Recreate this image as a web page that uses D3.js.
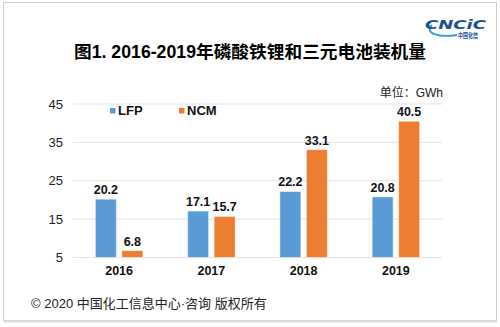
<!DOCTYPE html>
<html>
<head>
<meta charset="utf-8">
<script src="https://cdn.jsdelivr.net/npm/d3@7"></script>
<style>
	body { margin: 0; background: #fff; }
	svg text { font-family: "Liberation Sans", Arial, "Noto Sans CJK SC", sans-serif; }
</style>
</head>
<body>
<svg id="chart" width="500" height="327"></svg>
<script>
// data
var years = ["2016", "2017", "2018", "2019"];
var seriesNames = ["LFP", "NCM"];
var lfp = [20.2, 17.1, 22.2, 20.8];
var ncm = [6.8, 15.7, 33.1, 40.5];
var yTicks = [5, 15, 25, 35, 45];
var colors = ["#5B9BD5", "#ED7D31"];

var svg = d3.select("#chart");

// frame
svg.append("rect")
	.attr("x", 3.5).attr("y", 2.5)
	.attr("width", 493).attr("height", 318)
	.attr("fill", "#fff")
	.attr("stroke", "#cfcfcf");
svg.append("line")
	.attr("x1", 4).attr("x2", 497)
	.attr("y1", 321.5).attr("y2", 321.5)
	.attr("stroke", "#dedede").attr("stroke-width", 2);

var x = d3.scaleBand().domain(years).range([73, 442]).padding(0);
var y = d3.scaleLinear().domain([5, 45]).range([257.5, 104]);

var barW = 21, gap = 5.5;

// gridlines
svg.append("g").selectAll("line")
	.data(yTicks)
	.enter().append("line")
	.attr("x1", 73).attr("x2", 442)
	.attr("y1", function(d) { return y(d); })
	.attr("y2", function(d) { return y(d); })
	.attr("stroke", "#e3e3e3")
	.attr("stroke-width", 1);

// y axis labels
var yAxis = d3.axisLeft(y).tickValues(yTicks).tickSize(0).tickPadding(10);
var yg = svg.append("g").attr("transform", "translate(73,0)").call(yAxis);
yg.select(".domain").remove();
yg.selectAll("text")
	.style("font-size", "13px")
	.attr("fill", "#222");

// bars
var series = [lfp, ncm];
series.forEach(function(vals, s) {
	var off = s === 0 ? -gap / 2 - barW : gap / 2;
	var g = svg.append("g");
	g.selectAll("rect")
		.data(vals)
		.enter().append("rect")
		.attr("x", function(d, i) { return x(years[i]) + x.bandwidth() / 2 + off; })
		.attr("y", function(d) { return y(d); })
		.attr("width", barW)
		.attr("height", function(d) { return y(5) - y(d); })
		.attr("fill", colors[s])
		.attr("stroke", "#fff")
		.attr("stroke-opacity", 0.5)
		.attr("stroke-width", 1);

	g.selectAll("text")
		.data(vals)
		.enter().append("text")
		.attr("x", function(d, i) { return x(years[i]) + x.bandwidth() / 2 + off + barW / 2; })
		.attr("y", function(d) { return y(d) - 5; })
		.attr("text-anchor", "middle")
		.style("font-size", "12.5px")
		.style("font-weight", "bold")
		.attr("fill", "#111")
		.text(function(d) { return d.toFixed(1); });
});

// x axis labels
var xAxis = d3.axisBottom(x).tickSize(0).tickPadding(9);
var xg = svg.append("g").attr("transform", "translate(0," + y(5) + ")").call(xAxis);
xg.select(".domain").remove();
xg.selectAll("text")
	.style("font-size", "12.5px")
	.style("font-weight", "bold")
	.attr("fill", "#111");

// legend
var legX = [110, 179];
seriesNames.forEach(function(n, i) {
	svg.append("rect")
		.attr("x", legX[i]).attr("y", 108)
		.attr("width", 5.5).attr("height", 5.5)
		.attr("fill", colors[i]);
	svg.append("text")
		.attr("x", legX[i] + 8).attr("y", 115)
		.style("font-size", "13px")
		.style("font-weight", "bold")
		.attr("fill", "#111")
		.text(n);
});

// title
svg.append("text")
	.attr("x", 250).attr("y", 58)
	.attr("text-anchor", "middle")
	.attr("textLength", 352)
	.attr("lengthAdjust", "spacingAndGlyphs")
	.style("font-size", "17.5px")
	.style("font-weight", "bold")
	.attr("fill", "#000")
	.text("图1. 2016-2019年磷酸铁锂和三元电池装机量");

// unit
svg.append("text")
	.attr("x", 443).attr("y", 97)
	.attr("text-anchor", "end")
	.style("font-size", "12px")
	.attr("fill", "#222")
	.text("单位：GWh");

// footer
svg.append("text")
	.attr("x", 31).attr("y", 308)
	.style("font-size", "13px")
	.attr("fill", "#222")
	.text("© 2020 中国化工信息中心·咨询 版权所有");

// logo
var logo = svg.append("g");
logo.append("path")
	.attr("d", "M432,25 C424,33 438,38 457,35")
	.attr("fill", "none")
	.attr("stroke", "#2f9fd8")
	.attr("stroke-width", 1.8);
logo.append("text")
	.attr("x", 455.5).attr("y", 28.5)
	.attr("text-anchor", "middle")
	.attr("textLength", 61)
	.attr("lengthAdjust", "spacingAndGlyphs")
	.style("font-family", "'DejaVu Sans', sans-serif")
	.style("font-size", "12px")
	.style("font-weight", "bold")
	.style("font-style", "italic")
	.attr("fill", "#1d4f91")
	.text("CNCiC");
logo.append("text")
	.attr("x", 468).attr("y", 37.5)
	.attr("text-anchor", "middle")
	.attr("textLength", 20)
	.attr("lengthAdjust", "spacingAndGlyphs")
	.style("font-size", "6.5px")
	.style("font-weight", "bold")
	.attr("fill", "#1d4f91")
	.text("中国化信");
</script>
</body>
</html>
